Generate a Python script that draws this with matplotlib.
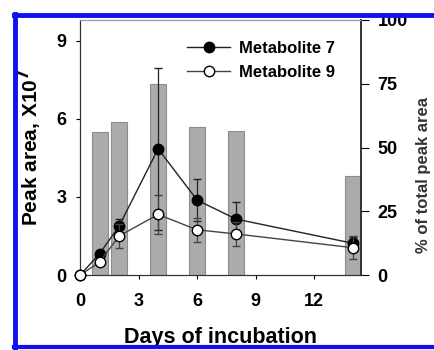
import matplotlib
matplotlib.use("Agg")
import matplotlib.pyplot as plt
from matplotlib.lines import Line2D

plt.rcParams['font.family'] = ['Liberation Sans', 'DejaVu Sans']
plt.rcParams['font.weight'] = 'bold'

# data
days = [0, 1, 2, 4, 6, 8, 14]
met7 = [0, 0.82, 1.88, 4.85, 2.88, 2.15, 1.22]
met7_err = [0, 0, 0.26, 3.1, 0.81, 0.67, 0.25]
met9 = [0, 0.5, 1.5, 2.33, 1.74, 1.58, 1.05]
met9_err = [0, 0, 0.47, 0.75, 0.45, 0.45, 0.45]

bar_days = [1, 2, 4, 6, 8, 14]
bar_pct = [56, 60, 75, 58, 56.5, 39]

xticks = [0, 3, 6, 9, 12]
yticks = [0, 3, 6, 9]
pct_ticks = [0, 25, 50, 75, 100]

fig = plt.figure(figsize=(4.35, 3.5), dpi=100)
ax = fig.add_axes([0.184, 0.214, 0.646, 0.729])
ax2 = ax.twinx()

# bars on right axis, lines drawn above them
ax2.bar(bar_days, bar_pct, width=0.82, color='#ababab', edgecolor='#8c8c8c', linewidth=0.8)
ax.set_zorder(ax2.get_zorder() + 1)
ax.patch.set_visible(False)

for y, err, face, lc, z in [(met7, met7_err, 'black', '#222222', 3),
                            (met9, met9_err, 'white', '#444444', 4)]:
    eb = ax.errorbar(days, y, yerr=err, color=lc, lw=1, marker='o', ms=7.5,
                     mfc=face, mec='black', mew=1, capsize=3, elinewidth=0.9,
                     capthick=0.9, zorder=z)
    eb[0].set_clip_on(False)

ax.set_xlim(0, 14.4)
ax.set_ylim(0, 9.8)
ax2.set_ylim(0, 100)
ax.set_xticks(xticks)
ax.set_yticks(yticks)
ax2.set_yticks(pct_ticks)

ax.tick_params(axis='x', direction='out', length=3, pad=10, labelsize=13)
ax.tick_params(axis='y', direction='out', length=3, pad=7, labelsize=13)
ax2.tick_params(axis='y', direction='out', length=6, pad=6, labelsize=13)
for lab in ax.get_xticklabels() + ax.get_yticklabels() + ax2.get_yticklabels():
    lab.set_fontweight('bold')

for a in (ax, ax2):
    a.spines['top'].set_color('#999999')
    a.spines['left'].set_color('#333333')
    a.spines['right'].set_color('#333333')
    a.spines['bottom'].set_color('#333333')
    a.spines['right'].set_linewidth(1.2)

ax.set_ylabel('Peak area, X10$^{\\mathbf{7}}$', fontsize=15, fontweight='bold', labelpad=9)
fig.text(0.507, 0.037, 'Days of incubation', fontsize=15.5, fontweight='bold',
         ha='center', va='center')

handles = [Line2D([], [], color='#222222', lw=1, marker='o', ms=7.5, mfc='black', mec='black'),
           Line2D([], [], color='#444444', lw=1, marker='o', ms=7.5, mfc='white', mec='black')]
leg = ax.legend(handles, ['Metabolite 7', 'Metabolite 9'], loc='upper right',
                bbox_to_anchor=(0.96, 0.975), frameon=False, fontsize=12,
                handlelength=2.6, handletextpad=0.5, labelspacing=0.5)
for t in leg.get_texts():
    t.set_fontweight('bold')

# right axis label, squeezed at the cropped right edge
fig.text(0.974, 0.5, '% of total peak area', rotation=90, fontsize=12,
         fontweight='bold', ha='center', va='center', color='#333333')

# blue frame of the cropped figure
blue = '#1010f0'
fig.add_artist(Line2D([0.034, 0.034], [0.005, 0.96], transform=fig.transFigure,
                      color=blue, lw=3.5, zorder=10))
fig.add_artist(Line2D([0.032, 1.0], [0.958, 0.958], transform=fig.transFigure,
                      color=blue, lw=3.5, zorder=10))
fig.add_artist(Line2D([0.032, 1.0], [0.008, 0.008], transform=fig.transFigure,
                      color=blue, lw=3, zorder=10))

fig.savefig('out.png', dpi=100)
